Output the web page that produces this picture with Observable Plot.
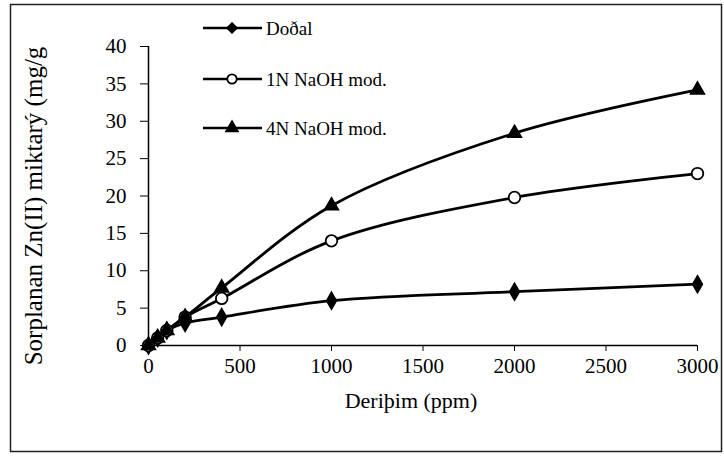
<!DOCTYPE html>
<html>
<head>
<meta charset="utf-8">
<script src="https://cdn.jsdelivr.net/npm/d3@7"></script>
<script src="https://cdn.jsdelivr.net/npm/@observablehq/plot@0.6"></script>
<style>
  html, body { margin: 0; padding: 0; background: #fff; }
  svg { display: block; }
  svg, svg text { font-family: 'Liberation Serif', 'Times New Roman', serif !important; }
</style>
</head>
<body>
<div id="chart"></div>
<script>
const concentrations = [0, 50, 100, 200, 400, 1000, 2000, 3000];
const seriesNames = ["Doðal", "1N NaOH mod.", "4N NaOH mod."];
const dogal = [0, 1.0, 2.0, 3.0, 3.8, 6.0, 7.2, 8.2];
const naoh1 = [0, 1.0, 2.0, 3.8, 6.3, 14.0, 19.8, 23.0];
const naoh4 = [0, 1.0, 2.0, 3.8, 7.7, 18.7, 28.4, 34.2];
const xTicks = [0, 500, 1000, 1500, 2000, 2500, 3000];
const yTicks = [0, 5, 10, 15, 20, 25, 30, 35, 40];
const xLabel = "Deriþim (ppm)";
const yLabel = "Sorplanan Zn(II) miktarý (mg/g";

const symbols = ["diamond", "circle", "triangle"];
const fills = ["black", "white", "black"];
const sizes = [5.0, 5.8, 5.0];
const allValues = [dogal, naoh1, naoh4];

const rows = [];
allValues.forEach((vals, s) => {
  vals.forEach((v, i) => rows.push({series: seriesNames[s], x: concentrations[i], y: v, s}));
});

const font = "'Liberation Serif', 'Times New Roman', serif";

const chart = Plot.plot({
  width: 724,
  height: 457,
  marginLeft: 148,
  marginRight: 27,
  marginTop: 46,
  marginBottom: 112,
  style: {fontFamily: font, fontSize: "21px", color: "black", background: "white"},
  x: {domain: [0, 3000], ticks: xTicks, tickSize: 6, tickPadding: 7, label: null, tickFormat: d => String(d)},
  y: {domain: [0, 40], ticks: yTicks, tickSize: 8, tickPadding: 14, label: null},
  marks: [
    Plot.ruleY([0], {stroke: "black", strokeWidth: 1.5}),
    Plot.ruleX([0], {stroke: "black", strokeWidth: 1.5}),
    ...seriesNames.map((name, s) =>
      Plot.line(rows.filter(r => r.s === s), {x: "x", y: "y", curve: "catmull-rom", stroke: "black", strokeWidth: 2.8})
    ),
    ...seriesNames.map((name, s) =>
      Plot.dot(rows.filter(r => r.s === s), {x: "x", y: "y", symbol: symbols[s], r: sizes[s], fill: fills[s], stroke: "black", strokeWidth: 1.8})
    ),
    Plot.text([yLabel], {frameAnchor: "left", textAnchor: "middle", rotate: -90, dx: -115, dy: 10, fontSize: 25, fill: "black"}),
    Plot.text([xLabel], {frameAnchor: "bottom", dy: 62, dx: -12, fontSize: 22, fill: "black"})
  ]
});

const svg = d3.select(chart);
svg.append("rect")
  .attr("x", 10.5).attr("y", 4.5).attr("width", 711).attr("height", 447)
  .attr("fill", "none").attr("stroke", "#222").attr("stroke-width", 1.5);

const legendY = [28, 79, 128];
const leg = svg.append("g").attr("text-anchor", "start");
seriesNames.forEach((name, s) => {
  const y = legendY[s];
  leg.append("line").attr("x1", 203).attr("x2", 262).attr("y1", y).attr("y2", y)
    .attr("stroke", "black").attr("stroke-width", 2.6);
  const symType = s === 0 ? d3.symbolDiamond2 : s === 1 ? d3.symbolCircle : d3.symbolTriangle;
  const area = s === 0 ? 60 : s === 1 ? 70 : 60;
  leg.append("path").attr("d", d3.symbol(symType, area)())
    .attr("transform", `translate(232,${y})`)
    .attr("fill", fills[s]).attr("stroke", "black").attr("stroke-width", 1.8);
  leg.append("text").attr("x", 266).attr("y", y).attr("dy", "0.35em")
    .attr("text-anchor", "start")
    .attr("font-size", 19).text(name);
});

document.getElementById("chart").appendChild(chart);
</script>
</body>
</html>
